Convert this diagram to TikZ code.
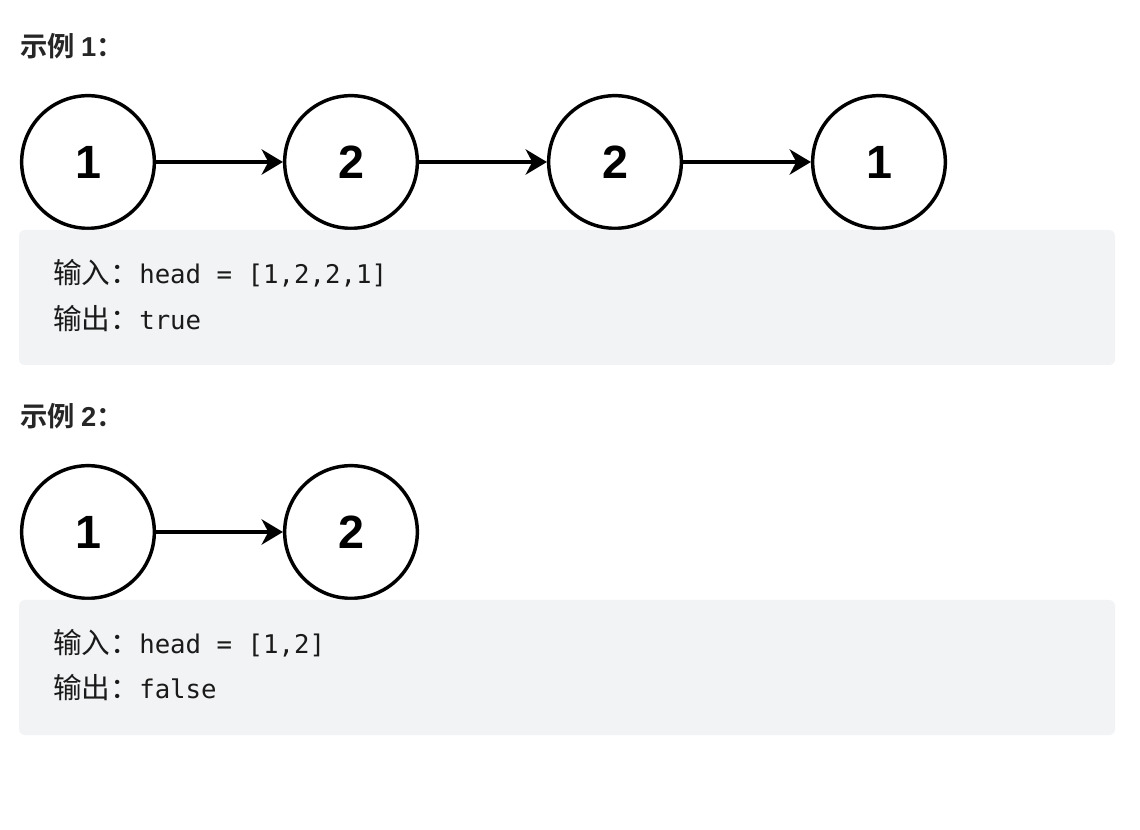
\documentclass[tikz,border=0pt]{standalone}
\usepackage{fontspec}
\newfontfamily\cjk{Noto Sans CJK SC}
\newfontfamily\cjkb{Noto Sans CJK SC Bold}
\newfontfamily\numfont{Liberation Sans}
\newfontfamily\monofont{DejaVu Sans Mono}
\usetikzlibrary{arrows.meta}
\definecolor{boxgray}{HTML}{F2F3F5}
\definecolor{headtext}{HTML}{262626}
\definecolor{codetext}{HTML}{1A1A1A}
\begin{document}
\begin{tikzpicture}[x=0.75pt,y=-0.75pt,
  listnode/.style={circle,draw=black,fill=white,line width=2.6pt,minimum size=99.5pt,inner sep=0pt,
    font=\numfont\bfseries\fontsize{35}{35}\selectfont},
  link/.style={line width=2.3pt,-{Stealth[length=16pt,width=19pt,inset=5pt]}},
  codebox/.style={fill=boxgray,rounded corners=4.5pt},
  heading/.style={anchor=base west,inner sep=0pt,text=headtext,
    font=\cjkb\fontsize{20.5}{20.5}\selectfont},
  codeline/.style={anchor=base west,inner sep=0pt,text=codetext}
]
\newcommand{\cj}[1]{{\cjk\fontsize{21.5}{21.5}\selectfont #1}}
\newcommand{\mo}[1]{{\monofont\fontsize{19.3}{20}\selectfont #1}}
\newcommand{\hd}[1]{{\numfont\bfseries #1}}
\useasboundingbox (0,0) rectangle (1140,830);
\fill[white] (0,0) rectangle (1140,830);

% Example 1
\node[heading] (h1) at (20,57) {示例 \hd{1}：};
\node[listnode] (a1) at (88,162) {1};
\node[listnode] (a2) at (351,162) {2};
\node[listnode] (a3) at (615,162) {2};
\node[listnode] (a4) at (879,162) {1};
\draw[link] (a1) -- (a2);
\draw[link] (a2) -- (a3);
\draw[link] (a3) -- (a4);
\fill[codebox] (19,230) rectangle (1115,365);
\node[codeline] (in1) at (53,284) {\cj{输入：}\mo{head = [1,2,2,1]}};
\node[codeline] (out1) at (53,330) {\cj{输出：}\mo{true}};

% Example 2
\node[heading] (h2) at (20,427) {示例 \hd{2}：};
\node[listnode] (b1) at (88,532) {1};
\node[listnode] (b2) at (351,532) {2};
\draw[link] (b1) -- (b2);
\fill[codebox] (19,600) rectangle (1115,735);
\node[codeline] (in2) at (53,653) {\cj{输入：}\mo{head = [1,2]}};
\node[codeline] (out2) at (53,699) {\cj{输出：}\mo{false}};
\end{tikzpicture}
\end{document}
